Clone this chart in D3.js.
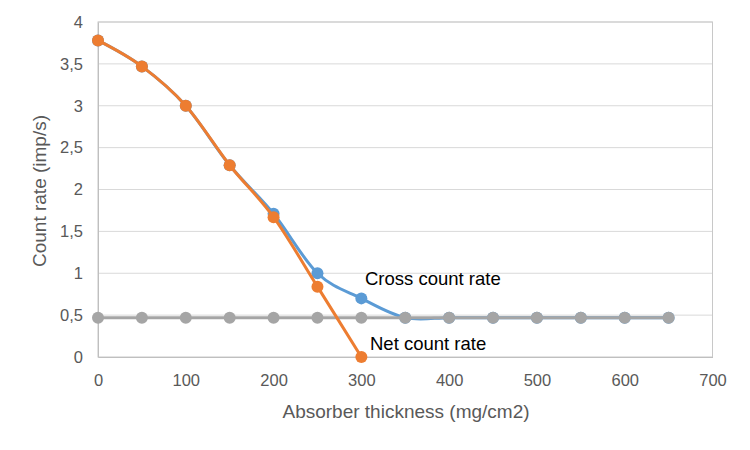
<!DOCTYPE html>
<html lang="en">
<head>
  <meta charset="utf-8"/>
  <title>Count rate vs absorber thickness</title>
  <script src="https://cdn.jsdelivr.net/npm/d3@7/dist/d3.min.js"></script>
  <style>
    html, body { margin:0; padding:0; background:#fff; }
    svg { display:block; font-family:"Liberation Sans Narrow","Liberation Sans",sans-serif; }
    .tick text { fill:#595959; font-size:16.5px; }
    .title { fill:#595959; font-size:19px; }
    .note  { fill:#000; font-size:18.5px; }
  </style>
</head>
<body>
<svg width="750" height="450"></svg>
<script>
  // data
  const thickness = [0, 50, 100, 150, 200, 250, 300, 350, 400, 450, 500, 550, 600, 650];
  const crossRate = [3.78, 3.47, 3.0, 2.29, 1.71, 1.0, 0.7, 0.47, 0.47, 0.47, 0.47, 0.47, 0.47, 0.47];
  const netRate   = [3.78, 3.47, 3.0, 2.29, 1.67, 0.84, 0.0];
  const background = [0.47, 0.47, 0.47, 0.47, 0.47, 0.47, 0.47, 0.47, 0.47, 0.47, 0.47, 0.47, 0.47, 0.47];
  const xTicks = [0, 100, 200, 300, 400, 500, 600, 700];
  const yTicks = [0, 0.5, 1, 1.5, 2, 2.5, 3, 3.5, 4];

  const svg = d3.select("svg");
  const x = d3.scaleLinear().domain([0, 700]).range([98, 712.5]);
  const y = d3.scaleLinear().domain([0, 4]).range([357, 22]);

  // komma som decimaltecken
  const loc = d3.formatLocale({decimal:",", thousands:" ", grouping:[3], currency:["",""]});
  const fmt = loc.format("~g");

  // grid
  svg.append("g")
    .selectAll("line")
    .data(yTicks.slice(1))
    .join("line")
      .attr("x1", x(0)).attr("x2", x(700))
      .attr("y1", d => y(d)).attr("y2", d => y(d))
      .attr("stroke", "#d9d9d9").attr("stroke-width", 1);

  // plot frame
  svg.append("rect")
    .attr("x", x(0)).attr("y", y(4))
    .attr("width", x(700) - x(0)).attr("height", y(0) - y(4))
    .attr("fill", "none").attr("stroke", "#c8c8c8");

  const xAxis = svg.append("g")
    .attr("transform", `translate(0,${y(0)})`)
    .call(d3.axisBottom(x).tickValues(xTicks).tickSize(0).tickPadding(17));
  xAxis.select(".domain").attr("stroke", "#bfbfbf");

  const yAxis = svg.append("g")
    .attr("transform", `translate(${x(0)},0)`)
    .call(d3.axisLeft(y).tickValues(yTicks).tickFormat(fmt).tickSize(0).tickPadding(15));
  yAxis.select(".domain").attr("stroke", "#bfbfbf");
  svg.selectAll(".tick text").attr("font-family", null);

  svg.append("text").attr("class", "title")
    .attr("x", 406).attr("y", 418).attr("text-anchor", "middle")
    .text("Absorber thickness (mg/cm2)");
  svg.append("text").attr("class", "title")
    .attr("transform", "translate(46,191) rotate(-90)").attr("text-anchor", "middle")
    .text("Count rate (imp/s)");

  const line = d3.line()
    .x(d => x(d[0])).y(d => y(d[1]))
    .curve(d3.curveCatmullRom.alpha(0));

  const series = [
    {vals: crossRate,  color: "#5b9bd5"},
    {vals: background, color: "#a5a5a5"},
    {vals: netRate,    color: "#ed7d31"}
  ];

  series.forEach(s => {
    const pts = s.vals.map((v, i) => [thickness[i], v]);
    const g = svg.append("g");
    g.append("path")
      .attr("d", line(pts))
      .attr("fill", "none")
      .attr("stroke", s.color)
      .attr("stroke-width", 3);
    g.selectAll("circle")
      .data(pts)
      .join("circle")
        .attr("cx", d => x(d[0])).attr("cy", d => y(d[1]))
        .attr("r", 6)
        .attr("fill", s.color);
  });

  svg.append("text").attr("class", "note")
    .attr("x", 365).attr("y", 285).text("Cross count rate");
  svg.append("text").attr("class", "note")
    .attr("x", 370).attr("y", 350).text("Net count rate");
</script>
</body>
</html>
